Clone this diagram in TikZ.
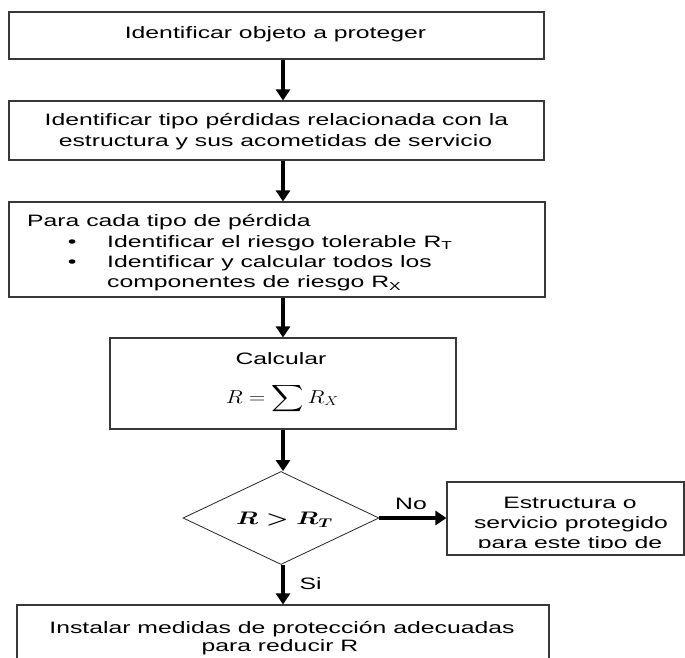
\documentclass[tikz,border=0pt]{standalone}
\usepackage[no-math]{fontspec}
\setmainfont{Liberation Sans}[FakeStretch=1.5]
\usepackage{exscale}
\usepackage{graphicx}
\usetikzlibrary{shapes.geometric,arrows.meta}
\begin{document}
\begin{tikzpicture}[x=1pt,y=-1pt,
  every node/.style={font=\fontsize{16.5pt}{20.4pt}\selectfont, text=black},
  box/.style={draw=black!78, line width=1.1pt, rectangle, inner sep=0pt},
  dia/.style={diamond, draw=black!85, line width=0.8pt, inner sep=0pt,
              minimum width=196pt, minimum height=93pt},
  arr/.style={line width=3.6pt, -{Triangle[width=14pt,length=11pt]}},
  txt/.style={inner sep=0pt, anchor=base},
  txtl/.style={inner sep=0pt, anchor=base west}
]
\fill[white] (0,0) rectangle (685,658);
\useasboundingbox (0,0) rectangle (685,658);
\clip (0,0) rectangle (685,658);

% boxes
\node[box, minimum width=535pt, minimum height=47pt] (b1) at (276.5,35.5) {};
\node[box, minimum width=535pt, minimum height=59pt] (b2) at (276.5,130.5) {};
\node[box, minimum width=536pt, minimum height=95pt] (b3) at (277,249.5) {};
\node[box, minimum width=346pt, minimum height=91pt] (b4) at (283,383.5) {};
\node[dia] (d) at (281,518) {};
\node[box, minimum width=237pt, minimum height=73pt] (b6) at (565.5,518.5) {};
\node[box, minimum width=532pt, minimum height=74pt] (b5) at (283,642) {};

% texts
\node[txt] (t1) at (275.5,38.5) {Identificar objeto a proteger};
\node[txt] (t2a) at (276.5,126) {Identificar tipo pérdidas relacionada con la};
\node[txt] (t2b) at (275.5,146.2) {estructura y sus acometidas de servicio};

\begin{scope}
  \clip (9,202) rectangle (545,290);
  \node[txtl] (t3a) at (27,226.3) {Para cada tipo de pérdida};
  \node[txtl] (t3b) at (67.7,247.3) {\makebox[39.3pt][l]{•}Identificar el riesgo tolerable R\textsubscript{T}};
  \node[txtl] (t3c) at (67.7,267.5) {\makebox[39.3pt][l]{•}Identificar y calcular todos los};
  \node[txtl] (t3d) at (107,287.6) {componentes de riesgo R\textsubscript{X}};
\end{scope}

\node[txt] (t4a) at (281,364.5) {Calcular};
\node[txt] (t4b) at (282.5,403) {\scalebox{1.3}[1.08]{$\displaystyle R=\sum R_X$}};

\node[txt] (t5) at (284.5,524.3) {\scalebox{1.45}[1.05]{\boldmath$R>R_T$}};

\begin{scope}
  \clip (447,482) rectangle (684,547);
  \node[txt] (t6a) at (570,508.8) {Estructura o};
  \node[txt] (t6b) at (571,528.8) {servicio protegido};
  \node[txt] (t6c) at (570,548.8) {para este tipo de};
\end{scope}

\node[txt] (t7a) at (282,633.5) {Instalar medidas de protección adecuadas};
\node[txt] (t7b) at (280,651.3) {para reducir R};

% labels
\node[txt] (lno) at (411,509) {No};
\node[txt] (lsi) at (310.5,589.3) {Si};

% connectors
\draw[arr] (b1.south -| b4.north) -- (b2.north -| b4.north);
\draw[arr] (b2.south -| b4.north) -- (b3.north -| b4.north);
\draw[arr] (b3.south -| b4.north) -- (b4.north);
\draw[arr] (b4.south) -- (b4.south |- d.north);
\draw[arr] (b4.south |- d.south) -- (b4.south |- b5.north);
\draw[arr] (d.east) -- (b6.west |- d.east);
\end{tikzpicture}
\end{document}
